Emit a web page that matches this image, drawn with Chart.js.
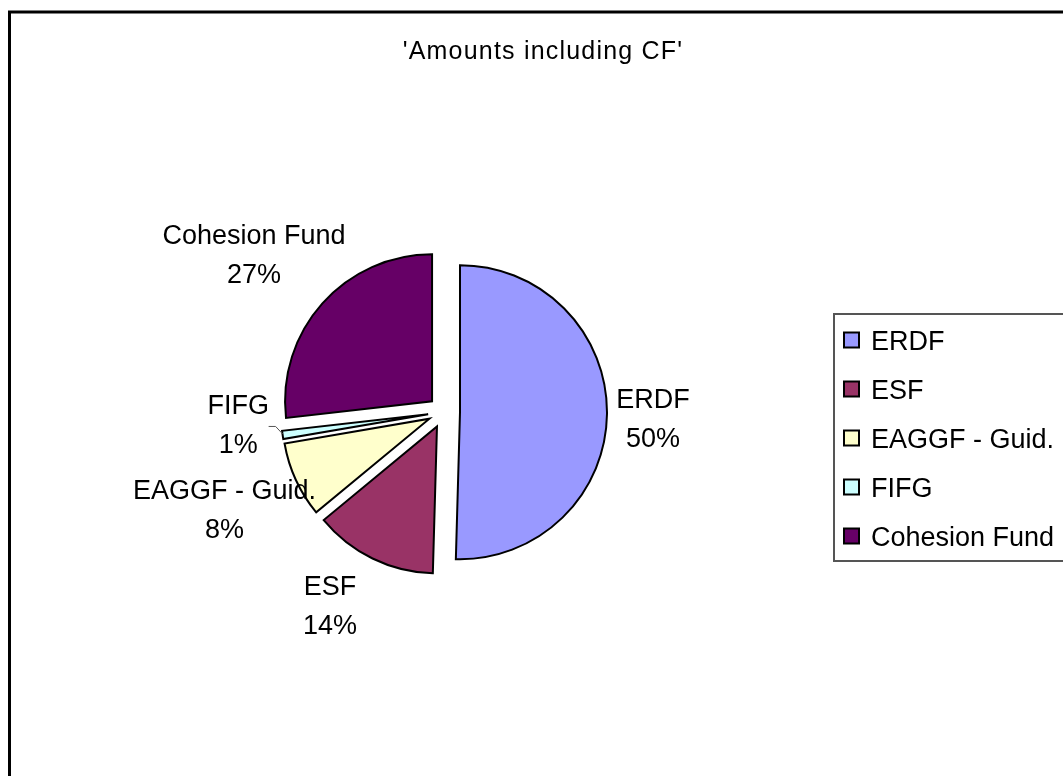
<!DOCTYPE html>
<html>
<head>
<meta charset="utf-8">
<script src="https://cdn.jsdelivr.net/npm/chart.js@4/dist/chart.umd.min.js"></script>
<style>
  html, body { margin: 0; padding: 0; background: #fff; }
</style>
</head>
<body>
<canvas id="pieChart" width="1063" height="776"></canvas>
<script>
// data
const titleText = "'Amounts including CF'";
const funds = ["ERDF", "ESF", "EAGGF - Guid.", "FIFG", "Cohesion Fund"];
const shares = [50.45, 13.55, 8.3, 0.9, 26.8];
const fundColors = ["#9999FF", "#993366", "#FFFFCC", "#CCFFFF", "#660066"];

// label placement around the pie (distance from centre, angle nudge in degrees)
const labelDist = [209, 224, 240, 206, 247];
const labelNudge = [0.9, 4.6, 0.85, 4.8, -2.05];
const EXPLODE = 16;
const FONT_FAMILY = "'Liberation Sans', Arial, sans-serif";
const LABEL_FONT = "27px " + FONT_FAMILY;
const CAP = 9.7; // half cap height of the label font

// pull every slice out along its middle angle (same radius for all)
const explodePlugin = {
  id: "explode",
  afterDatasetsUpdate(chart) {
    const meta = chart.getDatasetMeta(0);
    const a = chart.chartArea;
    const cx = (a.left + a.right) / 2, cy = (a.top + a.bottom) / 2;
    meta.data.forEach(function (arc) {
      const mid = (arc.startAngle + arc.endAngle) / 2;
      arc.x = cx + Math.cos(mid) * EXPLODE;
      arc.y = cy + Math.sin(mid) * EXPLODE;
    });
  }
};

const decorPlugin = {
  id: "decor",
  afterDraw(chart) {
    const ctx = chart.ctx;
    const a = chart.chartArea;
    const cx = (a.left + a.right) / 2, cy = (a.top + a.bottom) / 2;
    const meta = chart.getDatasetMeta(0);
    const total = shares.reduce((s, v) => s + v, 0);
    ctx.save();

    // outer frame
    ctx.strokeStyle = "#000";
    ctx.lineWidth = 3;
    ctx.strokeRect(9.5, 12, 1100, 800);

    // title
    ctx.fillStyle = "#000";
    ctx.font = "25px " + FONT_FAMILY;
    ctx.textAlign = "center";
    ctx.textBaseline = "alphabetic";
    ctx.letterSpacing = "1.2px";
    ctx.fillText(titleText, 543, 58.5);
    ctx.letterSpacing = "0px";

    // slice labels
    ctx.font = LABEL_FONT;
    meta.data.forEach(function (arc, i) {
      const mid = (arc.startAngle + arc.endAngle) / 2 + labelNudge[i] * Math.PI / 180;
      const lx = cx + Math.cos(mid) * labelDist[i];
      const ly = cy + Math.sin(mid) * labelDist[i];
      const pct = Math.round(shares[i] / total * 100) + "%";
      ctx.fillText(funds[i], lx, ly - 19.5 + CAP);
      ctx.fillText(pct, lx, ly + 19.5 + CAP);
    });

    // leader line for the thin FIFG slice
    const f = meta.data[3];
    const fm = (f.startAngle + f.endAngle) / 2;
    const ox = f.x + Math.cos(fm) * f.outerRadius;
    const oy = f.y + Math.sin(fm) * f.outerRadius;
    ctx.strokeStyle = "#555";
    ctx.lineWidth = 1;
    ctx.beginPath();
    ctx.moveTo(ox - 14, oy - 8.5);
    ctx.lineTo(ox - 7, oy - 8.5);
    ctx.lineTo(ox, oy - 1);
    ctx.stroke();

    // legend
    ctx.strokeStyle = "#555";
    ctx.lineWidth = 2;
    ctx.strokeRect(834, 314, 300, 247);
    ctx.textAlign = "left";
    funds.forEach(function (name, i) {
      const y = 340 + i * 49;
      ctx.fillStyle = fundColors[i];
      ctx.fillRect(844, y - 7.5, 15, 15);
      ctx.strokeStyle = "#000";
      ctx.lineWidth = 2;
      ctx.strokeRect(844, y - 7.5, 15, 15);
      ctx.fillStyle = "#000";
      ctx.fillText(name, 871, y + CAP);
    });
    ctx.restore();
  }
};

new Chart(document.getElementById("pieChart").getContext("2d"), {
  type: "pie",
  data: {
    labels: funds,
    datasets: [{
      data: shares,
      backgroundColor: fundColors,
      borderColor: "#000",
      borderWidth: 2,
      borderJoinStyle: "miter"
    }]
  },
  options: {
    responsive: false,
    animation: false,
    radius: 147,
    events: [],
    layout: { padding: { left: 0, right: 175, top: 48, bottom: 0 } },
    plugins: {
      legend: { display: false },
      title: { display: false },
      tooltip: { enabled: false }
    }
  },
  plugins: [explodePlugin, decorPlugin]
});
</script>
</body>
</html>
